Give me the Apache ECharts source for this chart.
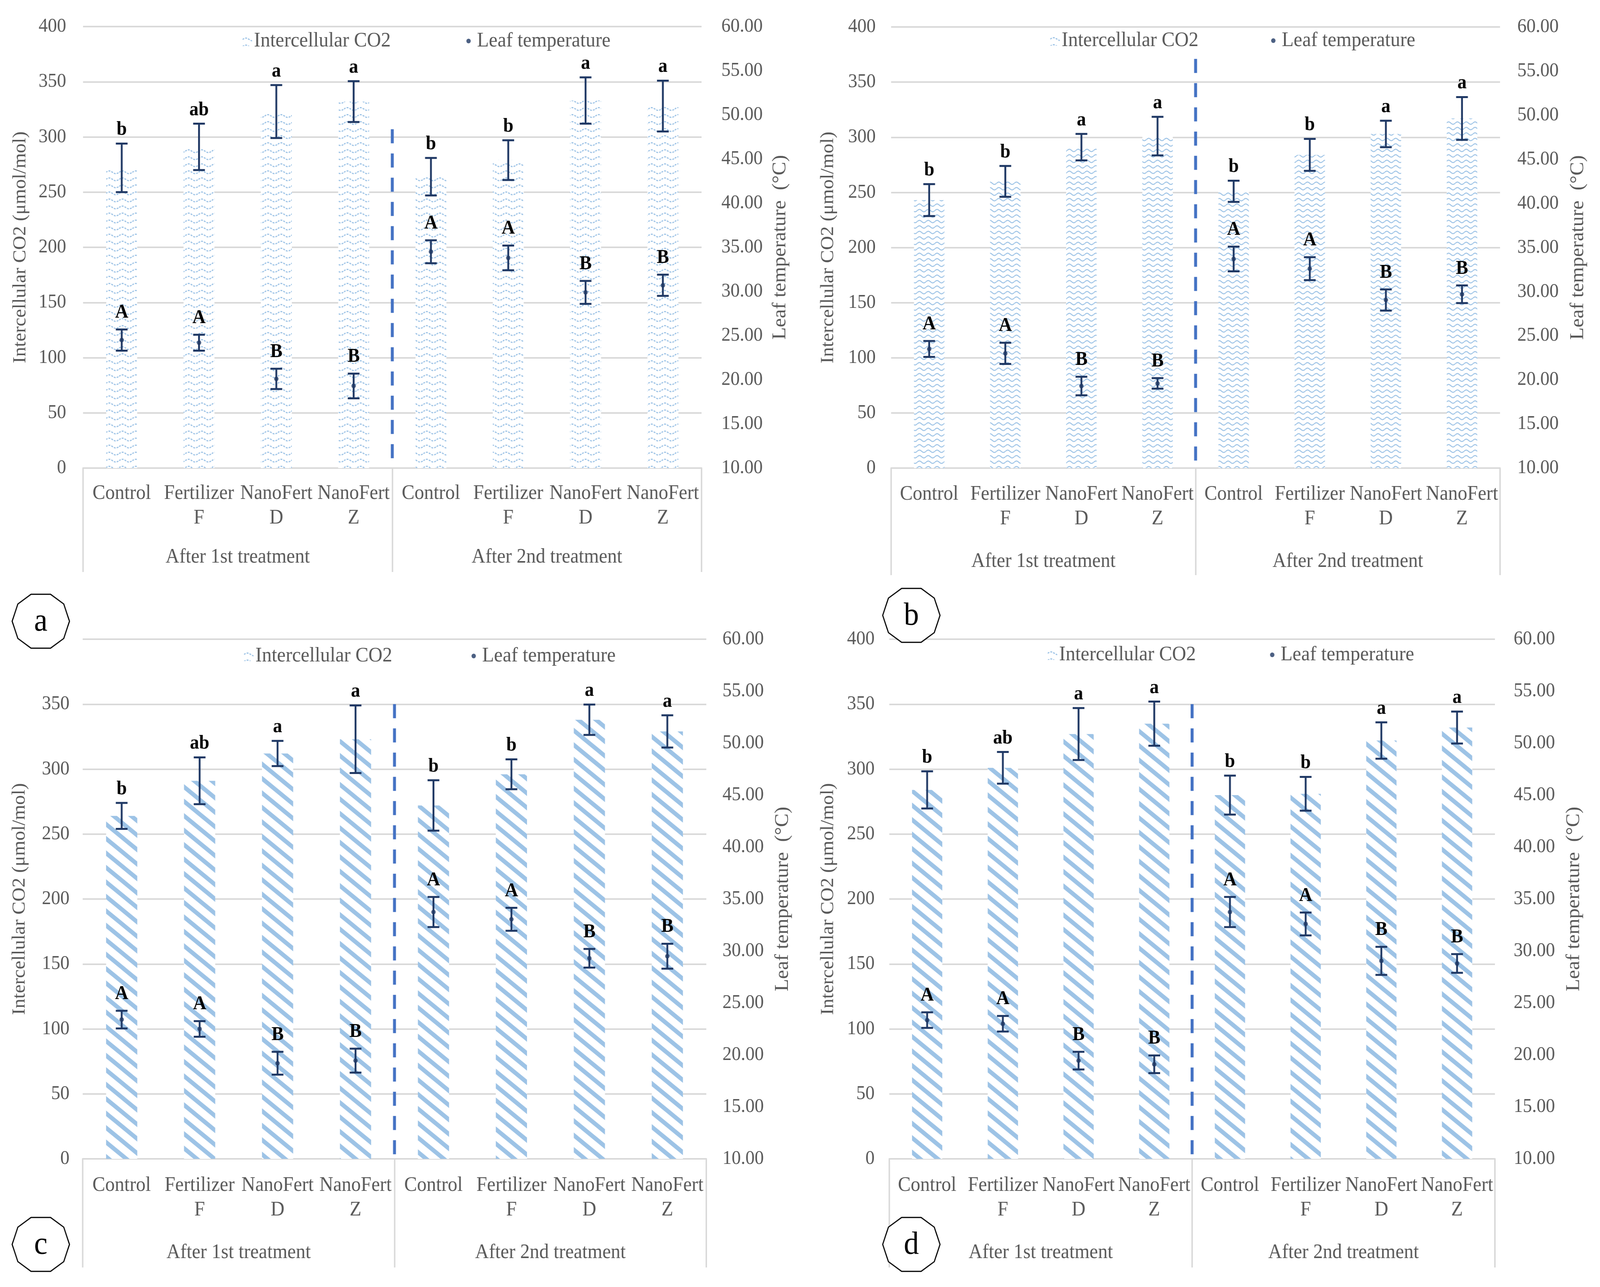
<!DOCTYPE html>
<html><head><meta charset="utf-8">
<script src="https://cdn.jsdelivr.net/npm/echarts@6/dist/echarts.min.js"></script>
<style>html,body{margin:0;padding:0;background:#fff;overflow:hidden}#c{width:4354px;height:3294px;transform-origin:0 0}</style>
</head><body><div id="c"></div>
<script>
// ---------------- data ----------------
const categories = ['Control','Fertilizer\nF','NanoFert\nD','NanoFert\nZ','Control','Fertilizer\nF','NanoFert\nD','NanoFert\nZ'];
const groups = ['After 1st treatment','After 2nd treatment'];
const panelLetters = ['a','b','c','d'];
const co2Name = 'Intercellular CO2';
const tempName = 'Leaf temperature';
const leftTicks = [0,50,100,150,200,250,300,350,400];
const rightTicks = [10,15,20,25,30,35,40,45,50,55,60];

const co2A = [272,291,323,332,264,279,333,328];
const co2ErrA = [22,21,24,18.5,17,18,21,23];
const co2LetA = ['b','ab','a','a','b','b','a','a'];
const tempA = [24.5,24.2,20.1,19.3,34.5,33.8,29.9,30.7];
const tempErrA = [1.2,0.9,1.15,1.4,1.3,1.4,1.3,1.2];
const tempLetA = ['A','A','B','B','A','A','B','B'];

const co2B = [243,260,291,301,251,284,303,317];
const co2ErrB = [14.5,14,12,17.5,9.6,14.5,12,19.4];
const co2LetB = ['b','b','a','a','b','b','a','a'];
const tempB = [23.5,23.0,19.3,19.6,33.7,32.6,29.05,29.7];
const tempErrB = [0.9,1.2,1.05,0.6,1.4,1.3,1.2,1.0];
const tempLetB = ['A','A','B','B','A','A','B','B'];

const co2C = [264,291,312,323,272,296,338,329];
const co2ErrC = [10,18,9.7,26,19.4,11.5,11.7,12.4];
const co2LetC = ['b','ab','a','a','b','b','a','a'];
const tempC = [23.4,22.5,19.2,19.45,33.75,33.05,29.3,29.5];
const tempErrC = [0.85,0.75,1.1,1.15,1.45,1.1,0.9,1.2];
const tempLetC = ['A','A','B','B','A','A','B','B'];

const co2D = [284,301,327,335,280,281,322,332];
const co2ErrD = [14.3,12.2,20,17,15,13,14,12.3];
const co2LetD = ['b','ab','a','a','b','b','a','a'];
const tempD = [23.35,23.0,19.45,19.1,33.75,32.6,29.05,28.8];
const tempErrD = [0.75,0.75,0.85,0.85,1.45,1.1,1.35,0.9];
const tempLetD = ['A','A','B','B','A','A','B','B'];

const dashTops = [307,371,350,350];

// ---------------- fit page to viewport ----------------
const DESIGN_W = 4354, DESIGN_H = 3294;
const VW = document.documentElement.clientWidth || window.innerWidth;
const VH = document.documentElement.clientHeight || window.innerHeight;
const el = document.getElementById('c');
el.style.transform = 'scale(' + (VW / DESIGN_W) + ',' + (VH / DESIGN_H) + ')';

// ---------------- styles / layout ----------------
const FONT = 'Liberation Serif';
const GRAY = '#595959';
const GRID_C = '#D9D9D9';
const NAVY = '#1F3864';
const BAR_C = '#9DC3E6';

function wavePattern(w, h, amp, lw, dotted) {
  const c = document.createElement('canvas'); c.width = w; c.height = h;
  const g = c.getContext('2d');
  g.fillStyle = '#fff'; g.fillRect(0, 0, w, h);
  g.strokeStyle = BAR_C; g.lineWidth = lw;
  if (dotted) g.setLineDash([5, 3]);
  g.beginPath();
  for (let x = 0; x <= w; x++) {
    const y = h / 2 - amp * Math.sin(2 * Math.PI * x / w);
    if (x === 0) g.moveTo(x, y); else g.lineTo(x, y);
  }
  g.stroke();
  return c;
}
function stripePattern(w, h, lw) {
  const c = document.createElement('canvas'); c.width = w; c.height = h;
  const g = c.getContext('2d');
  g.fillStyle = '#fff'; g.fillRect(0, 0, w, h);
  g.strokeStyle = BAR_C; g.lineWidth = lw; g.lineCap = 'butt';
  for (let k = -1; k <= 1; k++) {
    g.beginPath();
    g.moveTo(-w, -h + k * h); g.lineTo(2 * w, 2 * h + k * h);
    g.stroke();
  }
  return c;
}
const patterns = [
  {image: wavePattern(36, 18, 3.5, 3, true), repeat: 'repeat'},
  {image: wavePattern(24, 14, 3, 2.5, false), repeat: 'repeat'},
  {image: stripePattern(48, 37, 11), repeat: 'repeat'},
  {image: stripePattern(48, 37, 11), repeat: 'repeat'}
];

const panels = [
  {co2: co2A, co2Err: co2ErrA, co2Let: co2LetA, temp: tempA, tempErr: tempErrA, tempLet: tempLetA},
  {co2: co2B, co2Err: co2ErrB, co2Let: co2LetB, temp: tempB, tempErr: tempErrB, tempLet: tempLetB},
  {co2: co2C, co2Err: co2ErrC, co2Let: co2LetC, temp: tempC, tempErr: tempErrC, tempLet: tempLetC},
  {co2: co2D, co2Err: co2ErrD, co2Let: co2LetD, temp: tempD, tempErr: tempErrD, tempLet: tempLetD}
];

const layouts = [
  {left:226, top:68, width:1683, height:1130, catMargin:34, grpMargin:197, tickLen:266, lMargin:46, rMargin:54, leftGap:145, rightGap:188, lg:[660,105], dg:[1269,105], oct:[111,1590], hideTop:false},
  {left:2425, top:69, width:1657, height:1129, catMargin:36, grpMargin:208, tickLen:274, lMargin:42, rMargin:47, leftGap:146, rightGap:186, lg:[2858,104], dg:[3459,104], oct:[2480,1575], hideTop:false},
  {left:225, top:1636, width:1697, height:1330, catMargin:37, grpMargin:209, tickLen:278, lMargin:36, rMargin:44, leftGap:146, rightGap:182, lg:[664,1679], dg:[1283,1679], oct:[111,3185], hideTop:true},
  {left:2420, top:1636, width:1648, height:1330, catMargin:37, grpMargin:209, tickLen:278, lMargin:40, rMargin:51, leftGap:141, rightGap:189, lg:[2851,1676], dg:[3456,1676], oct:[2480,3185], hideTop:false}
];

function errSeries(name, p, yIdx, vals, errs, letters, gap, cap) {
  return {
    type: 'custom', name: name, xAxisIndex: 2 * p, yAxisIndex: yIdx, z: 5,
    data: vals.map((v, i) => [i, v, errs[i]]),
    encode: {x: 0, y: 1},
    renderItem: function (params, api) {
      const i = api.value(0), v = api.value(1), e = api.value(2);
      const t = api.coord([i, v + e]), b = api.coord([i, v - e]);
      const ls = {stroke: NAVY, lineWidth: 5};
      return {type: 'group', children: [
        {type: 'line', shape: {x1: t[0], y1: t[1], x2: b[0], y2: b[1]}, style: ls},
        {type: 'line', shape: {x1: t[0] - cap, y1: t[1], x2: t[0] + cap, y2: t[1]}, style: ls},
        {type: 'line', shape: {x1: b[0] - cap, y1: b[1], x2: b[0] + cap, y2: b[1]}, style: ls},
        {type: 'text', x: t[0], y: t[1] - gap, style: {text: letters[params.dataIndex], align: 'center', verticalAlign: 'bottom', font: 'bold 50px "' + FONT + '"', fill: '#000'}}
      ]};
    }
  };
}

const grid = [], xAxis = [], yAxis = [], series = [], legend = [], graphic = [];
panels.forEach((P, p) => {
  const L = layouts[p];
  grid.push({left: L.left, top: L.top, width: L.width, height: L.height, containLabel: false, outerBoundsMode: 'none'});
  xAxis.push({
    type: 'category', gridIndex: p, data: categories, boundaryGap: true,
    axisLine: {show: true, lineStyle: {color: GRID_C, width: 4}},
    axisTick: {show: false}, splitLine: {show: false},
    axisLabel: {interval: 0, margin: L.catMargin, fontFamily: FONT, fontSize: 52, lineHeight: 63, color: GRAY}
  });
  xAxis.push({
    type: 'category', gridIndex: p, data: groups, position: 'bottom', boundaryGap: true,
    axisLine: {show: false}, splitLine: {show: false},
    axisTick: {show: true, length: L.tickLen, lineStyle: {color: GRID_C, width: 4}},
    axisLabel: {interval: 0, margin: L.grpMargin, fontFamily: FONT, fontSize: 52, lineHeight: 63, color: GRAY}
  });
  yAxis.push({
    type: 'value', gridIndex: p, position: 'left',
    min: leftTicks[0], max: leftTicks[leftTicks.length - 1], interval: leftTicks[1] - leftTicks[0],
    name: 'Intercellular CO2 (μmol/mol)', nameLocation: 'middle', nameGap: L.leftGap,
    nameTextStyle: {fontFamily: FONT, fontSize: 50, color: GRAY},
    axisLine: {show: false}, axisTick: {show: false},
    splitLine: {show: true, lineStyle: {color: GRID_C, width: 4}},
    axisLabel: {margin: L.lMargin, fontFamily: FONT, fontSize: 50, color: GRAY,
      formatter: v => (L.hideTop && v === leftTicks[leftTicks.length - 1]) ? '' : String(v)}
  });
  yAxis.push({
    type: 'value', gridIndex: p, position: 'right',
    min: rightTicks[0], max: rightTicks[rightTicks.length - 1], interval: rightTicks[1] - rightTicks[0],
    name: 'Leaf temperature  (°C)', nameLocation: 'middle', nameGap: L.rightGap,
    nameTextStyle: {fontFamily: FONT, fontSize: 52, color: GRAY},
    axisLine: {show: false}, axisTick: {show: false}, splitLine: {show: false},
    axisLabel: {margin: L.rMargin, fontFamily: FONT, fontSize: 50, color: GRAY, formatter: v => v.toFixed(2)}
  });
  series.push({
    type: 'bar', name: co2Name, xAxisIndex: 2 * p, yAxisIndex: 2 * p, data: P.co2,
    barWidth: '40%', itemStyle: {color: patterns[p], borderWidth: 0}, z: 2
  });
  series.push({
    type: 'custom', name: 'sep' + p, xAxisIndex: 2 * p, yAxisIndex: 2 * p, z: 4, silent: true,
    data: [[3, dashTops[p]]],
    renderItem: function (params, api) {
      const v = api.value(1);
      const a = api.coord([3, v]), b = api.coord([4, v]), z0 = api.coord([3, 0]);
      const x = (a[0] + b[0]) / 2;
      return {type: 'line', shape: {x1: x, y1: a[1], x2: x, y2: z0[1]},
        style: {stroke: '#4472C4', lineWidth: 8, lineDash: [36, 26]}};
    }
  });
  series.push(errSeries('co2err' + p, p, 2 * p, P.co2, P.co2Err, P.co2Let, 10, 16));
  series.push(errSeries('temperr' + p, p, 2 * p + 1, P.temp, P.tempErr, P.tempLet, 18, 16));
  series.push({
    type: 'scatter', name: tempName, xAxisIndex: 2 * p, yAxisIndex: 2 * p + 1, data: P.temp,
    symbol: 'circle', symbolSize: 12, itemStyle: {color: NAVY}, z: 6
  });
  legend.push({
    data: [co2Name], left: L.lg[0], top: L.lg[1] - 27, padding: 0, selectedMode: false,
    itemWidth: 26, itemHeight: 26, icon: 'rect',
    textStyle: {fontFamily: FONT, fontSize: 53, color: GRAY, lineHeight: 54}
  });
  legend.push({
    data: [tempName], left: L.dg[0], top: L.dg[1] - 27, padding: 0, selectedMode: false,
    itemWidth: 36, itemHeight: 12, icon: 'circle',
    textStyle: {fontFamily: FONT, fontSize: 53, color: GRAY, lineHeight: 54}
  });
  const cx = L.oct[0], cy = L.oct[1], w = 78, h = 69;
  const pts = [[-0.34,-1],[0.34,-1],[0.8,-0.64],[1,0],[0.8,0.64],[0.34,1],[-0.34,1],[-0.8,0.64],[-1,0],[-0.8,-0.64]]
    .map(q => [cx + q[0] * w, cy + q[1] * h]);
  graphic.push({type: 'polygon', shape: {points: pts}, style: {fill: '#fff', stroke: '#000', lineWidth: 3}, z: 10});
  graphic.push({type: 'text', x: cx, y: cy + 2, z: 11,
    style: {text: panelLetters[p], align: 'center', verticalAlign: 'middle', font: '82px "' + FONT + '"', fill: '#000'}});
});

const chart = echarts.init(el, null, {renderer: 'canvas'});
chart.setOption({
  backgroundColor: '#fff', animation: false,
  grid, xAxis, yAxis, series, legend, graphic
});
</script></body></html>
